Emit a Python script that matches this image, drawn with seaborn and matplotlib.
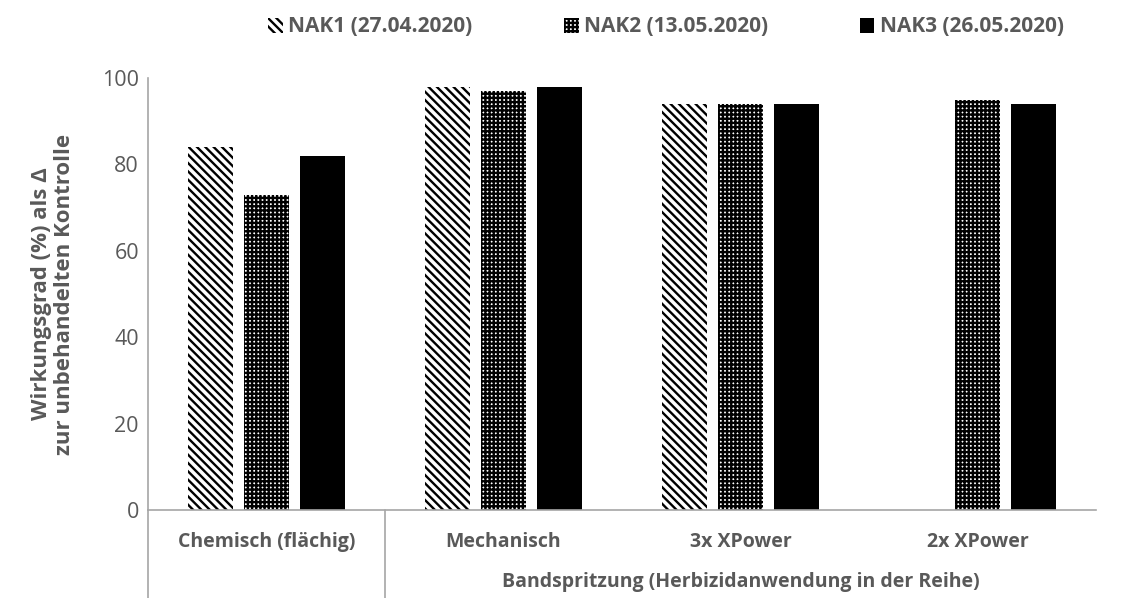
import numpy as np
import pandas as pd
import matplotlib
matplotlib.use("Agg")
import matplotlib.pyplot as plt
from matplotlib.patches import Patch
import seaborn as sns

# --- data -------------------------------------------------------------
categories = ["Chemisch (flächig)", "Mechanisch", "3x XPower", "2x XPower"]
series = ["NAK1 (27.04.2020)", "NAK2 (13.05.2020)", "NAK3 (26.05.2020)"]
nak1 = [84, 98, 94, np.nan]
nak2 = [73, 97, 94, 95]
nak3 = [82, 98, 94, 94]
group_label = "Bandspritzung (Herbizidanwendung in der Reihe)"
y_label = "Wirkungsgrad (%) als Δ\nzur unbehandelten Kontrolle"
y_ticks = [0, 20, 40, 60, 80, 100]

# --- style ------------------------------------------------------------
sns.set_style("white")
plt.rcParams["font.family"] = ["Open Sans", "DejaVu Sans"]
plt.rcParams["hatch.linewidth"] = 1.7

TEXT = "#595959"
AXIS = "#A6A6A6"

styles = [
    dict(facecolor="white", edgecolor="black", hatch="\\" * 4),
    dict(facecolor="white", edgecolor="black", hatch="+" * 4),
    dict(facecolor="black", edgecolor="black", hatch=None),
]

df = pd.DataFrame({
    "Variante": categories * 3,
    "Termin": np.repeat(series, len(categories)),
    "Wert": nak1 + nak2 + nak3,
}).dropna()

W, H = 1126, 598
fig = plt.figure(figsize=(W / 100, H / 100), dpi=100)
ax = fig.add_axes([148 / W, 1 - 510 / H, 948 / W, 432 / H])

sns.barplot(data=df, x="Variante", y="Wert", hue="Termin",
            order=categories, hue_order=series,
            width=0.709, gap=0.214, errorbar=None, legend=False, ax=ax)

for container, st in zip(ax.containers, styles):
    for bar in container:
        bar.set_facecolor(st["facecolor"])
        bar.set_edgecolor(st["edgecolor"])
        bar.set_linewidth(0)
        if st["hatch"]:
            bar.set_hatch(st["hatch"])

# --- axes -------------------------------------------------------------
ax.set_xlim(-0.5, len(categories) - 0.5)
ax.set_ylim(0, 100)
ax.set_yticks(y_ticks)
ax.set_xlabel("")
ax.set_ylabel("")
for side in ("top", "right"):
    ax.spines[side].set_visible(False)
for side in ("left", "bottom"):
    ax.spines[side].set_color(AXIS)
    ax.spines[side].set_linewidth(1.2)

ax.tick_params(axis="y", direction="inout", length=7, width=1.2,
               color=AXIS, labelcolor=TEXT, labelsize=15.5, pad=3)
ax.tick_params(axis="x", length=0, labelcolor=TEXT, labelsize=14, pad=16)
for lbl in ax.get_xticklabels():
    lbl.set_fontweight("bold")

# category separators of the two-level axis
trans = ax.get_xaxis_transform()
for xpos in (-0.5, 0.5):
    ax.plot([xpos, xpos], [0, -0.25], transform=trans, color=AXIS,
            lw=1.2, clip_on=False)

ax.text(2, -0.166, group_label, transform=trans, ha="center", va="center",
        fontsize=14, fontweight="bold", color=TEXT)

fig.text(53 / W, 1 - 294 / H, y_label, rotation=90, ha="center", va="center",
         multialignment="center", fontsize=16, fontweight="bold", color=TEXT,
         linespacing=1.15)

# --- legend -----------------------------------------------------------
handles = [Patch(facecolor=st["facecolor"], edgecolor=st["edgecolor"],
                 hatch=st["hatch"], linewidth=0) for st in styles]
leg = fig.legend(handles, series, loc="center", ncol=3,
                 bbox_to_anchor=(666 / W, 1 - 27 / H), frameon=False,
                 handlelength=0.7, handleheight=0.7, handletextpad=0.25,
                 columnspacing=4.4, prop=dict(size=15, weight="bold"))
for t in leg.get_texts():
    t.set_color(TEXT)

fig.savefig("out.png", dpi=100)
